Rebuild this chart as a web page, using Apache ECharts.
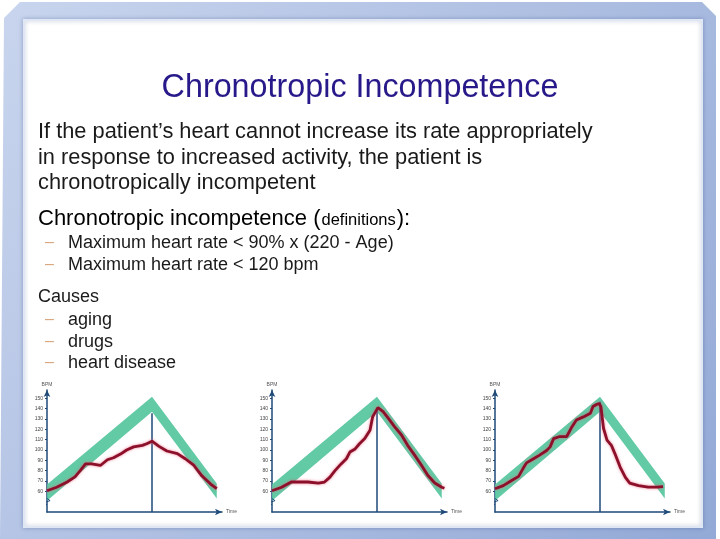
<!DOCTYPE html>
<html>
<head>
<meta charset="utf-8">
<script src="https://cdn.jsdelivr.net/npm/echarts@6/dist/echarts.min.js"></script>
<style>
  html, body { margin: 0; padding: 0; background: #fff; }
  #chart { width: 720px; height: 539px; }
</style>
</head>
<body>
<div id="chart"></div>
<script>
// target heart-rate band (same in all three panels)
var bandTime = [0, 12, 19.4];
var bandUpper = [66.5, 151.5, 67.5];
var bandLower = [51, 137, 53];
var peakTime = 12;
var peakLineTop = [135.5, 139, 146.7];
var yTicks = [60, 70, 80, 90, 100, 110, 120, 130, 140, 150];

// panel 1: blunted response
var hr1Time = [0, 1.1, 2.3, 3.2, 3.8, 4.4, 5.1, 6.1, 6.9, 7.6, 8.4, 9.1, 9.9, 10.9, 11.4, 12, 12.8, 13.7, 14.9, 15.8, 16.8, 17.7, 18.7, 19.4];
var hr1Bpm = [60.5, 64, 69, 74, 80, 86.5, 86.5, 85, 90.5, 92.5, 96, 100, 103, 104.5, 106, 108.5, 103.5, 99, 96.5, 91.5, 85, 75, 67, 62.5];

// panel 2: delayed response
var hr2Time = [0, 1.1, 2.2, 3, 4.1, 5.3, 6, 6.6, 7.2, 7.9, 8.5, 8.9, 9.5, 10, 10.6, 11.2, 11.5, 12.1, 12.7, 13.3, 14, 14.8, 15.5, 16.3, 17.1, 17.8, 18.6, 19.4, 19.7];
var hr2Bpm = [60.5, 64, 69, 69, 69, 68, 69, 73.5, 80, 86.5, 91.5, 98, 101, 106, 111, 119, 132, 141, 137, 130.5, 122.5, 114.5, 104.5, 95, 85, 75.5, 68, 64, 63];

// panel 3: fast recovery
var hr3Time = [0, 0.95, 1.9, 2.7, 3.2, 3.6, 4.4, 5.1, 5.9, 6.3, 6.7, 7.4, 8.2, 8.8, 9.3, 10.1, 10.9, 11.2, 11.6, 11.9, 12.1, 12.4, 12.8, 13.3, 13.7, 14.3, 14.9, 15.4, 16.4, 17.5, 18.5, 19.2];
var hr3Bpm = [62.5, 65.5, 70.5, 74.5, 82, 87.5, 91.5, 95, 99.5, 103, 111, 113, 113, 122.5, 129, 132, 135.5, 142, 144, 145, 142, 121, 109.5, 104.5, 96.5, 83.5, 73.5, 68, 65.5, 64, 64, 64.5];

// y-axis break zigzag
var breakTime = [0, 0.35, -0.35, 0];
var breakBpm = [53, 51, 49, 47];

var panels = [
  { left: 47, time: hr1Time, bpm: hr1Bpm },
  { left: 272, time: hr2Time, bpm: hr2Bpm },
  { left: 495, time: hr3Time, bpm: hr3Bpm }
];

function zip(a, b) { return a.map(function (v, i) { return [v, b[i]]; }); }

var axisColor = '#1f4a78';
var FONT = '"Liberation Sans", Arial, sans-serif';

var grids = [], xAxes = [], yAxes = [], series = [];
panels.forEach(function (p, i) {
  grids.push({ left: p.left, top: 390, width: 175, height: 122 });
  xAxes.push({
    gridIndex: i, type: 'value', min: 0, max: 20,
    name: 'Time', nameLocation: 'end', nameGap: 4,
    nameTextStyle: { fontSize: 5, color: '#555', fontFamily: FONT },
    axisLine: { lineStyle: { color: axisColor, width: 1.5 }, symbol: ['none', 'arrow'], symbolSize: [5, 7] },
    axisTick: { show: false }, axisLabel: { show: false }, splitLine: { show: false }
  });
  yAxes.push({
    gridIndex: i, type: 'value', min: 40, max: 158, interval: 10,
    name: 'BPM', nameLocation: 'end', nameGap: 3,
    nameTextStyle: { fontSize: 5, color: '#555', fontFamily: FONT, align: 'center' },
    axisLine: { show: true, lineStyle: { color: axisColor, width: 1.5 }, symbol: ['none', 'arrow'], symbolSize: [5, 7] },
    axisTick: { show: true, length: 2, customValues: yTicks, lineStyle: { color: axisColor } },
    axisLabel: { customValues: yTicks, fontSize: 5, color: '#444', margin: 4, fontFamily: FONT },
    splitLine: { show: false }
  });
  series.push({
    type: 'custom', xAxisIndex: i, yAxisIndex: i, silent: true, z: 1,
    data: [0],
    renderItem: function (params, api) {
      var pts = [];
      bandTime.forEach(function (t, k) { pts.push(api.coord([t, bandUpper[k]])); });
      for (var k = bandTime.length - 1; k >= 0; k--) pts.push(api.coord([bandTime[k], bandLower[k]]));
      return { type: 'polygon', shape: { points: pts }, style: { fill: '#55c59d', opacity: 0.92 } };
    }
  });
  series.push({
    type: 'line', xAxisIndex: i, yAxisIndex: i, silent: true, z: 3,
    data: [[peakTime, 40], [peakTime, peakLineTop[i]]],
    symbol: 'none', lineStyle: { color: axisColor, width: 1.5 }
  });
  series.push({
    type: 'line', xAxisIndex: i, yAxisIndex: i, silent: true, z: 4,
    data: zip(p.time, p.bpm), symbol: 'none',
    lineStyle: { color: '#8c1029', width: 2.8, shadowColor: 'rgba(235,90,120,0.75)', shadowBlur: 3 }
  });
  series.push({
    type: 'line', xAxisIndex: i, yAxisIndex: i, silent: true, z: 4,
    data: zip(breakTime, breakBpm), symbol: 'none',
    lineStyle: { color: axisColor, width: 1 }
  });
});

function txt(text, x, y, size, color, extra) {
  var s = { text: text, x: x, y: y, fill: color || '#1a1a1a', font: size + 'px ' + FONT, verticalAlign: 'middle', align: 'left' };
  if (extra) for (var k in extra) s[k] = extra[k];
  return { type: 'text', z: 10, style: s };
}

var dash = '#d9a57c';
var graphic = [
  { type: 'rect', z: -20, shape: { x: 0, y: 0, width: 720, height: 539 }, style: { fill: '#ffffff' } },
  { type: 'polygon', z: -19, shape: { points: [[20, 2], [702, 2], [716, 16], [716, 539], [0, 539], [4, 18]] },
    style: { fill: new echarts.graphic.LinearGradient(0, 0, 1, 1, [{ offset: 0, color: '#c9d5ee' }, { offset: 1, color: '#93a9d6' }]) } },
  { type: 'rect', z: -18, shape: { x: 24, y: 20, width: 678, height: 507 },
    style: { fill: '#ffffff', stroke: '#dfe6f4', lineWidth: 2, shadowColor: 'rgba(60,80,140,0.35)', shadowBlur: 4 } },
  txt('Chronotropic Incompetence', 360, 88, 32.3, '#28198a', { align: 'center' }),
  txt('If the patient\u2019s heart cannot increase its rate appropriately', 38, 132, 21.8),
  txt('in response to increased activity, the patient is', 38, 157.5, 21.8),
  txt('chronotropically incompetent', 38, 183, 21.8),
  { type: 'text', z: 10, style: {
      text: '{a|Chronotropic incompetence (}{b|definitions}{a|):}', x: 38, y: 219, verticalAlign: 'middle',
      rich: { a: { fontSize: 22, fontFamily: FONT, color: '#1a1a1a' }, b: { fontSize: 16.5, fontFamily: FONT, color: '#1a1a1a', padding: [3, 1, 0, 1] } } } },
  txt('\u2013', 45, 243, 16, dash),
  txt('Maximum heart rate < 90% x (220 - Age)', 68, 243, 18),
  txt('\u2013', 45, 265, 16, dash),
  txt('Maximum heart rate < 120 bpm', 68, 265, 18),
  txt('Causes', 38, 297, 18),
  txt('\u2013', 45, 320, 16, dash),
  txt('aging', 68, 320, 18),
  txt('\u2013', 45, 342, 16, dash),
  txt('drugs', 68, 342, 18),
  txt('\u2013', 45, 363, 16, dash),
  txt('heart disease', 68, 363, 18)
];

var chart = echarts.init(document.getElementById('chart'), null, { renderer: 'canvas' });
chart.setOption({
  animation: false,
  backgroundColor: '#ffffff',
  grid: grids,
  xAxis: xAxes,
  yAxis: yAxes,
  graphic: graphic,
  series: series
});
</script>
</body>
</html>
